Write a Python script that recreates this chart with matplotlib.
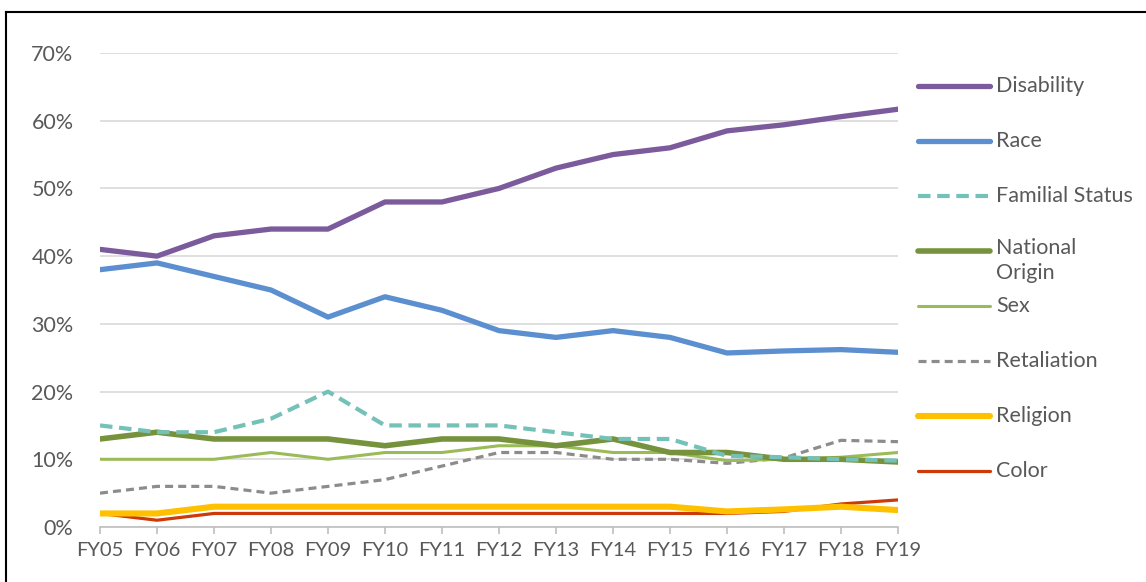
import matplotlib.pyplot as plt
from matplotlib.lines import Line2D
from matplotlib.ticker import FuncFormatter

years = ['FY05', 'FY06', 'FY07', 'FY08', 'FY09', 'FY10', 'FY11', 'FY12',
         'FY13', 'FY14', 'FY15', 'FY16', 'FY17', 'FY18', 'FY19']

disability = [41, 40, 43, 44, 44, 48, 48, 50, 53, 55, 56, 58.5, 59.4, 60.6, 61.7]
race = [38, 39, 37, 35, 31, 34, 32, 29, 28, 29, 28, 25.7, 26, 26.2, 25.8]
familial = [15, 14, 14, 16, 20, 15, 15, 15, 14, 13, 13, 10.5, 10.3, 10, 9.8]
national = [13, 14, 13, 13, 13, 12, 13, 13, 12, 13, 11, 11, 10, 10, 9.6]
sex = [10, 10, 10, 11, 10, 11, 11, 12, 12, 11, 11, 9.8, 10, 10.3, 11]
retaliation = [5, 6, 6, 5, 6, 7, 9, 11, 11, 10, 10, 9.4, 10.2, 12.8, 12.6]
religion = [2, 2, 3, 3, 3, 3, 3, 3, 3, 3, 3, 2.3, 2.6, 3, 2.5]
color = [2, 1, 2, 2, 2, 2, 2, 2, 2, 2, 2, 2, 2.3, 3.4, 4]

labels = ['Disability', 'Race', 'Familial Status', 'National\nOrigin',
          'Sex', 'Retaliation', 'Religion', 'Color']
values = [disability, race, familial, national, sex, retaliation, religion, color]

# colour, width (pt), dash pattern
styles = [
    ('#7B5B9C', 3.8, None),
    ('#5B8FD0', 3.8, None),
    ('#74C1B8', 3.0, (3, 1.6)),
    ('#76923C', 4.0, None),
    ('#9BBB59', 2.2, None),
    ('#8C8C8C', 2.3, (2.5, 1.6)),
    ('#FFC000', 4.4, None),
    ('#CC3A0A', 2.3, None),
]

plt.rcParams['font.family'] = ['Lato', 'DejaVu Sans']
text_col = '#595959'
fs = 15.5

fig = plt.figure(figsize=(11.46, 5.82), dpi=100)
ax = fig.add_axes([100 / 1146, 55 / 582, 798 / 1146, 474 / 582])

x = list(range(len(years)))
# draw back to front so Disability ends up on top
for i in reversed(range(len(values))):
    c, lw, dash = styles[i]
    ln, = ax.plot(x, values[i], color=c, lw=lw, solid_capstyle='round',
                  solid_joinstyle='round', zorder=3 + (len(values) - i) * 0.1)
    if dash:
        ln.set_dashes(dash)
        ln.set_dash_capstyle('butt')

ax.set_xlim(0, len(years) - 1)
ax.set_ylim(0, 70)
ax.set_yticks(range(0, 71, 10))
ax.yaxis.set_major_formatter(FuncFormatter(lambda v, p: f'{v:.0f}%'))
ax.set_xticks(x)
ax.set_xticklabels(years)
ax.grid(axis='y', color='#D9D9D9', lw=1.2, zorder=0)
for s in ['top', 'right', 'left']:
    ax.spines[s].set_visible(False)
ax.spines['bottom'].set_color('#BFBFBF')
ax.spines['bottom'].set_linewidth(1.2)
ax.tick_params(axis='x', length=5, width=1.2, color='#BFBFBF', pad=6,
               labelsize=14.5, labelcolor=text_col)
ax.tick_params(axis='y', length=0, pad=19, labelsize=fs, labelcolor=text_col)

# legend on the right, drawn like the Excel one
for i, lab in enumerate(labels):
    c, lw, dash = styles[i]
    yy = (582 - 86 - i * 55) / 582
    ln = Line2D([918 / 1146, 990 / 1146], [yy, yy], color=c, lw=lw,
                solid_capstyle='round')
    if dash:
        ln.set_dashes(dash)
        ln.set_dash_capstyle('butt')
    fig.add_artist(ln)
    if '\n' in lab:
        fig.text(996 / 1146, yy + 13 / 582, lab, fontsize=fs, color=text_col,
                 va='top', linespacing=1.3)
    else:
        fig.text(996 / 1146, yy, lab, fontsize=fs, color=text_col, va='center')

# outer frame (only left and top edges show in the crop)
fig.add_artist(Line2D([6 / 1146, 6 / 1146], [0, (582 - 12) / 582],
                      color='black', lw=1.5))
fig.add_artist(Line2D([6 / 1146, 1], [(582 - 12) / 582] * 2,
                      color='black', lw=1.5))

fig.savefig('out.png', dpi=100)
